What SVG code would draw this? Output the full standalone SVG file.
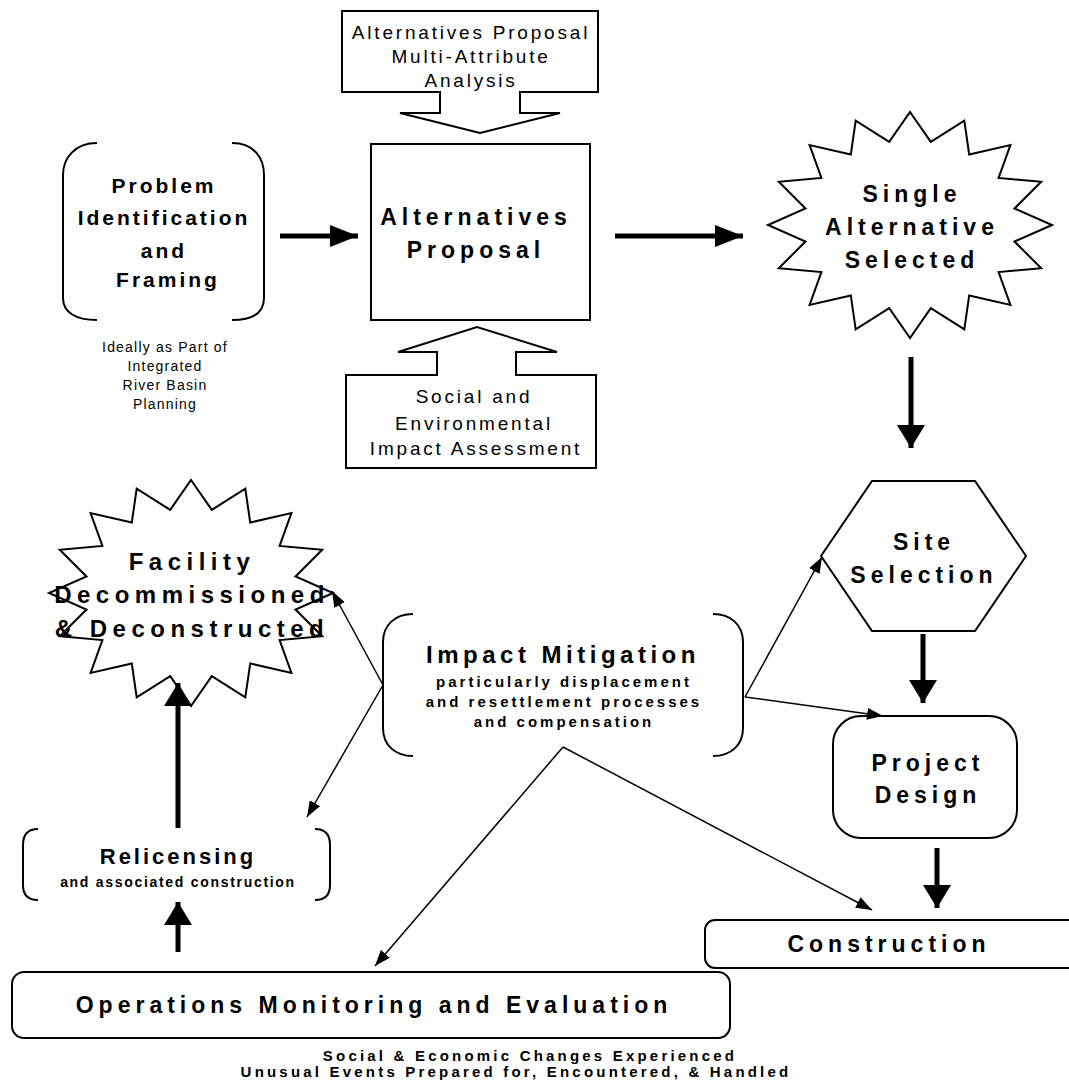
<svg xmlns="http://www.w3.org/2000/svg" xmlns:xlink="http://www.w3.org/1999/xlink" width="1069" height="1080" viewBox="0 0 1069 1080">
<style>
.shape{fill:#fff;stroke:#000;stroke-width:2}
.br{fill:none;stroke:#000;stroke-width:2}
.t{font-family:"Liberation Sans",Arial,sans-serif;fill:#000;text-anchor:middle}
.big{font-size:23px;font-weight:bold;letter-spacing:5px}
.mid{font-size:21px;font-weight:bold;letter-spacing:3px}
.reg{font-size:19px;letter-spacing:2.8px}
.small{font-size:14px;letter-spacing:1.2px}
.sub{font-size:15px;font-weight:bold;letter-spacing:3px}
.sub2{font-size:14px;font-weight:bold;letter-spacing:1.7px}
.foot{font-size:15px;font-weight:bold;letter-spacing:3.2px}
.thin{stroke:#000;stroke-width:1.5;fill:none}
.thick{stroke:#000;stroke-width:5;fill:none}
</style>
<defs>
<polygon id="star" points="142,0 104.5,16.5 131.2,43.2 88.6,47.1 100.4,79.9 59.2,70.5 54.3,104.4 20.8,83.1 0,113 -20.8,83.1 -54.3,104.4 -59.2,70.5 -100.4,79.9 -88.6,47.1 -131.2,43.2 -104.5,16.5 -142,0 -104.5,-16.5 -131.2,-43.2 -88.6,-47.1 -100.4,-79.9 -59.2,-70.5 -54.3,-104.4 -20.8,-83.1 0,-113 20.8,-83.1 54.3,-104.4 59.2,-70.5 100.4,-79.9 88.6,-47.1 131.2,-43.2 104.5,-16.5"/>
<marker id="ah" markerUnits="userSpaceOnUse" viewBox="0 0 16 12" markerWidth="16" markerHeight="12" refX="16" refY="6" orient="auto"><path d="M0,0 L16,6 L0,12 Z" fill="#000"/></marker>
<marker id="bigH" markerUnits="userSpaceOnUse" viewBox="0 0 28 22" markerWidth="28" markerHeight="22" refX="28" refY="11" orient="auto"><path d="M0,0 L28,11 L0,22 Z" fill="#000"/></marker>
<marker id="bigV" markerUnits="userSpaceOnUse" viewBox="0 0 23 28" markerWidth="23" markerHeight="28" refX="23" refY="14" orient="auto"><path d="M0,0 L23,14 L0,28 Z" fill="#000"/></marker>
</defs>

<g id="callout-top">
<path class="shape" d="M342,11 L598,11 L598,92 L520,92 L520,113 L560,113 L480,133 L400,113 L440,113 L440,92 L342,92 Z"/>
<text class="t reg" x="471" y="39">Alternatives Proposal</text>
<text class="t reg" x="471" y="63">Multi-Attribute</text>
<text class="t reg" x="471" y="87">Analysis</text>
</g>

<g id="alternatives-proposal">
<rect class="shape" x="371" y="144" width="219" height="176"/>
<text class="t big" x="476" y="225">Alternatives</text>
<text class="t big" x="476" y="258">Proposal</text>
</g>

<g id="callout-bottom">
<path class="shape" d="M346,375 L437,375 L437,352 L398,352 L477,327 L557,352 L516,352 L516,375 L596,375 L596,468 L346,468 Z"/>
<text class="t reg" x="474" y="403">Social and</text>
<text class="t reg" x="474" y="430">Environmental</text>
<text class="t reg" x="476" y="455">Impact Assessment</text>
</g>

<g id="problem-identification">
<path class="br" d="M97,143 C75,143 63,158 63,175 L63,298 C63,312 75,320 97,320"/>
<path class="br" d="M232,143 C254,143 264,158 264,175 L264,298 C264,312 254,320 232,320"/>
<text class="t mid" x="164" y="193">Problem</text>
<text class="t mid" x="164" y="225">Identification</text>
<text class="t mid" x="164" y="258">and</text>
<text class="t mid" x="168" y="287">Framing</text>
<text class="t small" x="165" y="352">Ideally as Part of</text>
<text class="t small" x="165" y="371">Integrated</text>
<text class="t small" x="165" y="390">River Basin</text>
<text class="t small" x="165" y="409">Planning</text>
</g>

<g id="single-alternative">
<use xlink:href="#star" href="#star" class="shape" x="910" y="225"/>
<text class="t big" x="912" y="202">Single</text>
<text class="t big" x="912" y="235">Alternative</text>
<text class="t big" x="912" y="268">Selected</text>
</g>

<g id="site-selection">
<polygon class="shape" points="872,481 975,481 1026,556 975,631 872,631 821,556"/>
<text class="t big" x="924" y="550">Site</text>
<text class="t big" x="924" y="583">Selection</text>
</g>

<g id="project-design">
<rect class="shape" x="833" y="716" width="184" height="122" rx="28"/>
<text class="t big" x="928" y="771">Project</text>
<text class="t big" x="928" y="803">Design</text>
</g>

<g id="construction">
<rect class="shape" x="705" y="920" width="380" height="48" rx="10"/>
<text class="t big" x="889" y="952">Construction</text>
</g>

<g id="impact-mitigation">
<path class="br" d="M413,614 C395,614 383,625 383,642 L383,728 C383,745 395,756 413,756"/>
<path class="br" d="M713,614 C731,614 743,625 743,642 L743,728 C743,745 731,756 713,756"/>
<text class="t big" x="563" y="663" style="font-size:24px;letter-spacing:4.5px">Impact Mitigation</text>
<text class="t sub" x="564" y="687">particularly displacement</text>
<text class="t sub" x="564" y="707">and resettlement processes</text>
<text class="t sub" x="564" y="727">and compensation</text>
</g>

<g id="facility-decommissioned">
<use xlink:href="#star" href="#star" class="shape" x="191" y="593"/>
<text class="t big" x="192" y="570" style="font-size:24px;letter-spacing:5.5px">Facility</text>
<text class="t big" x="192" y="603" style="font-size:24px;letter-spacing:5.5px">Decommissioned</text>
<text class="t big" x="192" y="637" style="font-size:24px;letter-spacing:5.5px">&amp; Deconstructed</text>
</g>

<g id="relicensing">
<path class="br" d="M38,829 C28,829 23,835 23,845 L23,885 C23,895 28,900 38,900"/>
<path class="br" d="M315,829 C325,829 330,835 330,845 L330,885 C330,895 325,900 315,900"/>
<text class="t" x="178" y="864" style="font-size:22px;font-weight:bold;letter-spacing:3px">Relicensing</text>
<text class="t sub2" x="178" y="887">and associated construction</text>
</g>

<g id="operations">
<rect class="shape" x="12" y="972" width="718" height="66" rx="12"/>
<text class="t big" x="374" y="1013">Operations Monitoring and Evaluation</text>
</g>

<g id="footer">
<text class="t foot" x="530" y="1061">Social &amp; Economic Changes Experienced</text>
<text class="t foot" x="516" y="1077">Unusual Events Prepared for, Encountered, &amp; Handled</text>
</g>

<g id="connectors">
<line class="thick" x1="280" y1="236" x2="358" y2="236" marker-end="url(#bigH)"/>
<line class="thick" x1="615" y1="236" x2="743" y2="236" marker-end="url(#bigH)"/>
<line class="thick" x1="911" y1="357" x2="911" y2="448" marker-end="url(#bigV)"/>
<line class="thick" x1="923" y1="634" x2="923" y2="703" marker-end="url(#bigV)"/>
<line class="thick" x1="937" y1="848" x2="937" y2="908" marker-end="url(#bigV)"/>
<line class="thick" x1="178" y1="952" x2="178" y2="902" marker-end="url(#bigV)"/>
<line class="thick" x1="178" y1="828" x2="178" y2="683" marker-end="url(#bigV)"/>
<line class="thin" x1="383" y1="685" x2="332" y2="591" marker-end="url(#ah)"/>
<line class="thin" x1="383" y1="685" x2="307" y2="817" marker-end="url(#ah)"/>
<line class="thin" x1="745" y1="697" x2="822" y2="557" marker-end="url(#ah)"/>
<line class="thin" x1="745" y1="697" x2="883" y2="716" marker-end="url(#ah)"/>
<line class="thin" x1="563" y1="747" x2="375" y2="966" marker-end="url(#ah)"/>
<line class="thin" x1="563" y1="747" x2="872" y2="910" marker-end="url(#ah)"/>
</g>
</svg>
